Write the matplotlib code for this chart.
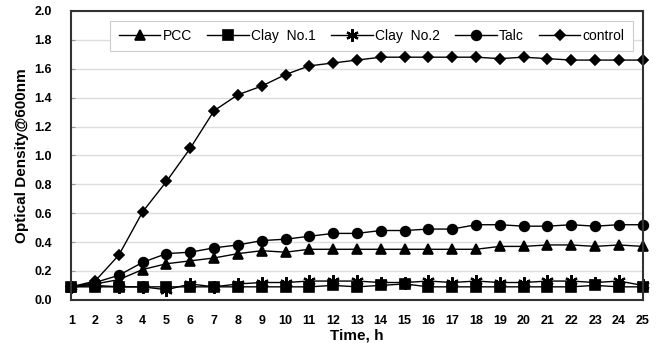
import numpy as np
import matplotlib
matplotlib.use("Agg")
import matplotlib.pyplot as plt

plt.rcParams['font.family'] = ['Liberation Sans', 'DejaVu Sans']

# data
hours = list(range(1, 26))
pcc = [0.09, 0.11, 0.14, 0.21, 0.25, 0.27, 0.29, 0.32, 0.34, 0.33, 0.35, 0.35, 0.35,
       0.35, 0.35, 0.35, 0.35, 0.35, 0.37, 0.37, 0.38, 0.38, 0.37, 0.38, 0.37]
clay1 = [0.09, 0.09, 0.09, 0.09, 0.09, 0.09, 0.09, 0.09, 0.09, 0.09, 0.09, 0.10, 0.09,
         0.10, 0.11, 0.09, 0.09, 0.09, 0.09, 0.09, 0.09, 0.09, 0.10, 0.09, 0.09]
clay2 = [0.09, 0.10, 0.09, 0.09, 0.07, 0.11, 0.09, 0.11, 0.12, 0.12, 0.13, 0.13, 0.13,
         0.12, 0.12, 0.13, 0.12, 0.13, 0.12, 0.12, 0.13, 0.13, 0.12, 0.13, 0.10]
talc = [0.09, 0.12, 0.17, 0.26, 0.32, 0.33, 0.36, 0.38, 0.41, 0.42, 0.44, 0.46, 0.46,
        0.48, 0.48, 0.49, 0.49, 0.52, 0.52, 0.51, 0.51, 0.52, 0.51, 0.52, 0.52]
control = [0.09, 0.13, 0.31, 0.61, 0.82, 1.05, 1.31, 1.42, 1.48, 1.56, 1.62, 1.64, 1.66,
           1.68, 1.68, 1.68, 1.68, 1.68, 1.67, 1.68, 1.67, 1.66, 1.66, 1.66, 1.66]

series = [("PCC", pcc, "^"), ("Clay  No.1", clay1, "s"), ("Clay  No.2", clay2, (6, 2, 0)),
          ("Talc", talc, "o"), ("control", control, "D")]

fig = plt.figure(figsize=(6.66, 3.54), dpi=100)
ax = fig.add_axes([0.107, 0.153, 0.858, 0.816])

for name, vals, mk in series:
    ms = 5.5 if mk == "D" else (9 if mk == (6, 2, 0) else 7)
    mew = 1.6 if mk == (6, 2, 0) else 1.2
    ax.plot(hours, vals, color="black", lw=1, marker=mk, ms=ms, mew=mew, label=name, clip_on=False)

ax.set_xlim(1, 25)
ax.set_ylim(0, 2.0)
ax.set_yticks(np.arange(0, 2.01, 0.2))
ax.set_yticklabels([f"{v:.1f}" for v in np.arange(0, 2.01, 0.2)], fontweight="bold", fontsize=9)
ax.set_xticks(hours)
ax.set_xticklabels([str(h) for h in hours], fontweight="bold", fontsize=9)
ax.tick_params(axis="x", length=0, pad=11)
ax.tick_params(axis="y", direction="in", length=3, pad=14, color="#999999")
ax.yaxis.grid(True, color="#dddddd", lw=1)
ax.set_axisbelow(True)
for s in ax.spines.values():
    s.set_color("#333333")
    s.set_linewidth(1.5)

ax.set_xlabel("Time, h", fontweight="bold", fontsize=11, labelpad=1)
ax.set_ylabel("Optical Density@600nm", fontweight="bold", fontsize=11, labelpad=4)

leg = ax.legend(loc="upper right", ncol=5, fontsize=10, frameon=True, fancybox=False,
                handlelength=3.0, columnspacing=1.1, handletextpad=0.15,
                bbox_to_anchor=(0.995, 0.99), borderpad=0.6, framealpha=1)
leg.get_frame().set_edgecolor("#cccccc")
leg.get_frame().set_linewidth(0.8)
leg.set_zorder(1)

fig.savefig("out.png", dpi=100)
